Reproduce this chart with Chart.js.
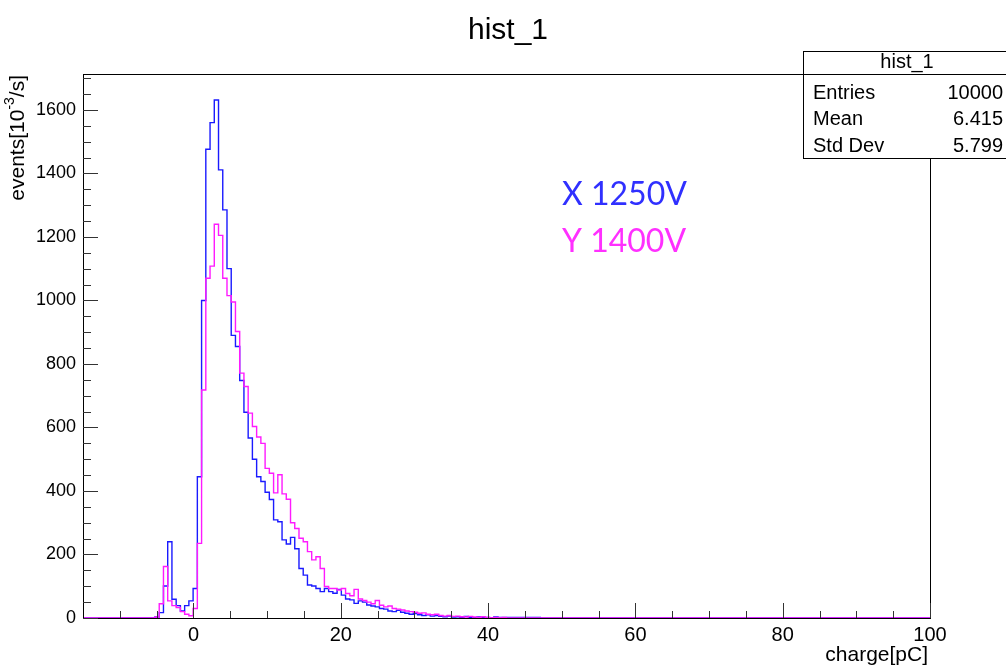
<!DOCTYPE html>
<html>
<head>
<meta charset="utf-8">
<title>hist_1</title>
<script src="https://cdn.jsdelivr.net/npm/chart.js@4.4.1/dist/chart.umd.min.js"></script>
<style>
  html, body { margin: 0; padding: 0; background: #fff; }
  #wrap { width: 1006px; height: 667px; }
</style>
</head>
<body>
<div id="wrap"><canvas id="hist" width="1006" height="667"></canvas></div>
<script>
// binning: 200 bins from -15 to 100 pC
const xMin = -15;
const xMax = 100;
const nBins = 200;
const firstBin = 17; // index of the first bin listed below

// bin contents, starting at bin firstBin
const countsX1250 = [
  3, 17, 101, 240, 59, 39, 22, 39, 54, 93,
  445, 1000, 1476, 1560, 1631, 1411, 1285, 1100, 890, 855,
  748, 648, 567, 500, 445, 430, 396, 373, 309, 303,
  246, 233, 254, 218, 156, 135, 104, 101, 93, 83,
  93, 83, 78, 90, 72, 60, 57, 46, 54, 50,
  41, 38, 35, 30, 28, 22, 20, 24, 18, 15,
  12, 14, 10, 8, 10, 6, 8, 5, 4, 6,
  3, 4, 2, 5, 2, 1, 3, 1, 2, 0,
  3, 2, 2, 2, 2, 2, 2, 2, 2, 2,
  2, 0
];
const countsY1400 = [
  3, 45, 162, 54, 39, 33, 20, 12, 7, 30,
  235, 718, 1070, 1108, 1240, 1205, 1070, 1015, 995, 902,
  771, 729, 645, 603, 570, 550, 471, 456, 394, 451,
  391, 374, 300, 282, 251, 240, 209, 183, 193, 156,
  99, 93, 93, 88, 93, 77, 70, 90, 60, 55,
  50, 45, 55, 40, 35, 38, 30, 28, 25, 22,
  20, 18, 15, 16, 12, 10, 12, 8, 6, 8,
  5, 6, 4, 3, 5, 3, 2, 4, 2, 1,
  2, 1, 2, 0
];

const xTicks = [0, 20, 40, 60, 80, 100];
const yTicks = [0, 200, 400, 600, 800, 1000, 1200, 1400, 1600];
const yMax = 1713;

const statsTitle = "hist_1";
const statsRows = [["Entries", "10000"], ["Mean", "6.415"], ["Std Dev", "5.799"]];
const seriesNames = ["X 1250V", "Y 1400V"];
const seriesColors = ["#1a1aff", "#ff1aff"];
const textColors = ["#3030ff", "#ff30ff"];

const binW = (xMax - xMin) / nBins;

function histPoints(counts) {
  const pts = [];
  for (let k = 0; k < nBins; k++) {
    const c = counts[k - firstBin];
    pts.push({ x: xMin + k * binW, y: c === undefined ? 0 : c });
  }
  pts.push({ x: xMax, y: 0 });
  return pts;
}

const FONT = "'Liberation Sans', Arial, Helvetica, sans-serif";

// frame, inner ticks, titles, stats box, labels
const rootStyle = {
  id: 'rootStyle',
  afterDatasetsDraw(chart) {
    const ctx = chart.ctx;
    const a = chart.chartArea;
    const x = chart.scales.x;
    const y = chart.scales.y;
    ctx.save();
    ctx.strokeStyle = '#000';
    ctx.lineWidth = 1;
    ctx.strokeRect(Math.round(a.left) + 0.5, Math.round(a.top) + 0.5,
      Math.round(a.right - a.left), Math.round(a.bottom - a.top));

    // x axis ticks (inside)
    ctx.strokeStyle = '#333';
    ctx.beginPath();
    for (let v = -10; v <= xMax; v += 5) {
      const px = Math.round(x.getPixelForValue(v)) + 0.5;
      const len = v % 20 === 0 ? 15 : 7;
      ctx.moveTo(px, a.bottom);
      ctx.lineTo(px, a.bottom - len);
    }
    // y axis ticks (inside)
    for (let v = 0; v <= yMax; v += 50) {
      const py = Math.round(y.getPixelForValue(v)) + 0.5;
      const len = v % 200 === 0 ? 15 : 8;
      ctx.moveTo(a.left, py);
      ctx.lineTo(a.left + len, py);
    }
    ctx.stroke();
    ctx.restore();
  },
  afterDraw(chart) {
    const ctx = chart.ctx;
    const a = chart.chartArea;
    ctx.save();
    ctx.fillStyle = '#000';

    // title
    ctx.font = '30px ' + FONT;
    ctx.textAlign = 'center';
    ctx.textBaseline = 'middle';
    ctx.fillText('hist_1', 508, 31);

    // x axis title
    ctx.font = '21px ' + FONT;
    ctx.textAlign = 'right';
    ctx.textBaseline = 'alphabetic';
    ctx.fillText('charge[pC]', a.right - 2, 661);

    // y axis title with superscript
    ctx.save();
    ctx.translate(18, a.top);
    ctx.rotate(-Math.PI / 2);
    ctx.textAlign = 'left';
    ctx.textBaseline = 'middle';
    const big = '21px ' + FONT, small = '14px ' + FONT;
    ctx.font = big;
    const w1 = ctx.measureText('events[10').width;
    const w3 = ctx.measureText('/s]').width;
    ctx.font = small;
    const w2 = ctx.measureText('-3').width;
    let px = -(w1 + w2 + w3) - 1;
    ctx.font = big;
    ctx.fillText('events[10', px, 0);
    px += w1;
    ctx.font = small;
    ctx.fillText('-3', px, -8);
    px += w2;
    ctx.font = big;
    ctx.fillText('/s]', px, 0);
    ctx.restore();

    // series labels
    ctx.font = '32px Lato, ' + FONT;
    ctx.textAlign = 'left';
    ctx.textBaseline = 'alphabetic';
    ctx.fillStyle = textColors[0];
    ctx.fillText(seriesNames[0], 562, 205);
    ctx.fillStyle = textColors[1];
    ctx.fillText(seriesNames[1], 562, 252);

    // stats box
    const bx = 803, by = 51, bw = 210, bh = 107;
    ctx.fillStyle = '#fff';
    ctx.fillRect(bx, by, bw, bh);
    ctx.strokeStyle = '#000';
    ctx.lineWidth = 1;
    ctx.strokeRect(bx + 0.5, by + 0.5, bw, bh);
    ctx.beginPath();
    ctx.moveTo(bx, 74.5);
    ctx.lineTo(bx + bw, 74.5);
    ctx.stroke();
    ctx.fillStyle = '#000';
    ctx.font = '20px ' + FONT;
    ctx.textBaseline = 'middle';
    ctx.textAlign = 'center';
    ctx.fillText(statsTitle, 907, 62);
    statsRows.forEach((row, i) => {
      const ry = 93 + i * 26.7;
      ctx.textAlign = 'left';
      ctx.fillText(row[0], 813, ry);
      ctx.textAlign = 'right';
      ctx.fillText(row[1], 1003, ry);
    });
    ctx.restore();
  }
};

new Chart(document.getElementById('hist'), {
  type: 'line',
  data: {
    datasets: [
      {
        label: seriesNames[1],
        data: histPoints(countsY1400),
        borderColor: seriesColors[1],
        borderWidth: 1.4,
        stepped: 'before',
        pointRadius: 0,
        fill: false,
        order: 0
      },
      {
        label: seriesNames[0],
        data: histPoints(countsX1250),
        borderColor: seriesColors[0],
        borderWidth: 1.4,
        stepped: 'before',
        pointRadius: 0,
        fill: false,
        order: 1
      }
    ]
  },
  options: {
    responsive: false,
    devicePixelRatio: 1,
    animation: false,
    layout: { padding: { top: 74, right: 76, left: 0, bottom: 0 } },
    plugins: {
      legend: { display: false },
      title: { display: false },
      tooltip: { enabled: false }
    },
    scales: {
      x: {
        type: 'linear',
        min: xMin,
        max: xMax,
        grid: { display: false, drawTicks: false },
        border: { display: false },
        afterBuildTicks: (s) => { s.ticks = xTicks.map(v => ({ value: v })); },
        afterFit: (s) => { s.height = 49; },
        ticks: {
          padding: 5,
          maxRotation: 0,
          color: '#000',
          font: { family: FONT, size: 20 },
          callback: (v) => String(v)
        }
      },
      y: {
        min: 0,
        max: yMax,
        grid: { display: false, drawTicks: false },
        border: { display: false },
        afterBuildTicks: (s) => { s.ticks = yTicks.map(v => ({ value: v })); },
        afterFit: (s) => { s.width = 83; },
        ticks: {
          padding: 7,
          color: '#000',
          font: { family: FONT, size: 18 },
          callback: (v) => String(v)
        }
      }
    }
  },
  plugins: [rootStyle]
});
</script>
</body>
</html>
